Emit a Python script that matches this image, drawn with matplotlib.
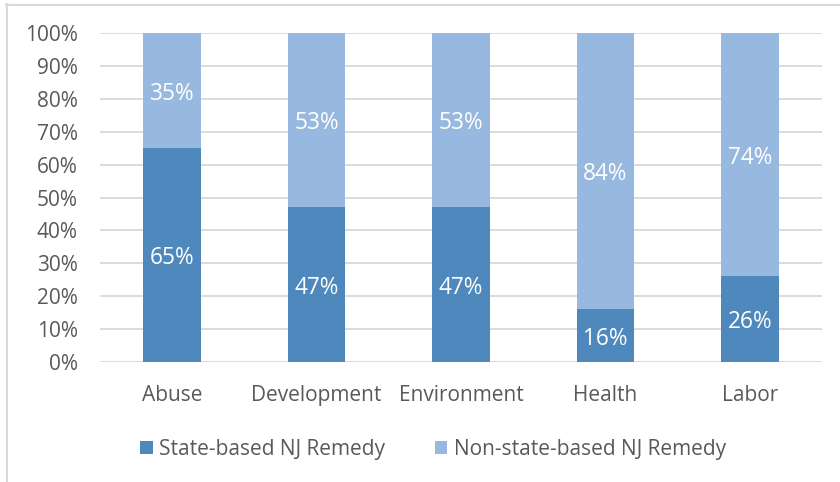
import matplotlib
matplotlib.use("Agg")
import matplotlib.pyplot as plt
import matplotlib.transforms as mtransforms
from matplotlib.lines import Line2D
from matplotlib.patches import Patch

categories = ["Abuse", "Development", "Environment", "Health", "Labor"]
state_based = [65, 47, 47, 16, 26]
non_state_based = [35, 53, 53, 84, 74]
series_names = ["State-based NJ Remedy", "Non-state-based NJ Remedy"]
y_ticks = [0, 10, 20, 30, 40, 50, 60, 70, 80, 90, 100]

c_dark = "#4F88BD"
c_light = "#98B9DF"
c_text = "#595959"
fs = 15
fs_lab = 16.3
plt.rcParams['font.family'] = ['Open Sans', 'DejaVu Sans']

fig = plt.figure(figsize=(8.4, 4.82), dpi=100)
ax = fig.add_axes([100/840, 1-362/482, 722/840, 329/482])

x = list(range(len(categories)))
w = 0.4
ax.bar(x, state_based, width=w, color=c_dark, zorder=3)
ax.bar(x, non_state_based, width=w, bottom=state_based, color=c_light, zorder=3)

lab_tr = ax.transData + mtransforms.ScaledTranslation(0, -3/100, fig.dpi_scale_trans)
for i in x:
    ax.text(i, state_based[i]/2, f"{state_based[i]}%", ha="center", va="center",
            color="white", fontsize=fs_lab, zorder=4, transform=lab_tr)
    ax.text(i, state_based[i] + non_state_based[i]/2, f"{non_state_based[i]}%",
            ha="center", va="center", color="white", fontsize=fs_lab, zorder=4,
            transform=lab_tr)

ax.set_xlim(-0.5, len(categories) - 0.5)
ax.set_ylim(0, 100)
ax.set_yticks(y_ticks)
ax.set_yticklabels([f"{t}%" for t in y_ticks])
ax.set_xticks(x)
ax.set_xticklabels(categories)
ax.tick_params(axis="both", length=0, labelsize=fs, labelcolor=c_text)
ax.tick_params(axis="y", pad=16)
ax.tick_params(axis="x", pad=16.5)
ax.yaxis.grid(True, color="#D9D9D9", linewidth=1.3, zorder=0)
for s in ax.spines.values():
    s.set_visible(False)

handles = [Patch(facecolor=c_dark), Patch(facecolor=c_light)]
leg = fig.legend(handles, series_names, loc="center", bbox_to_anchor=(433/840, 1-449/482),
                 ncol=2, frameon=False, fontsize=fs, handlelength=0.6, handleheight=0.6,
                 handletextpad=0.3, columnspacing=2.4)
for t in leg.get_texts():
    t.set_color(c_text)

# chart border
fig.add_artist(Line2D([6.5/840, 6.5/840], [0, 1-4/482], transform=fig.transFigure,
                      color="#D9D9D9", linewidth=1.5))
fig.add_artist(Line2D([6/840, 1], [1-4.5/482, 1-4.5/482], transform=fig.transFigure,
                      color="#D9D9D9", linewidth=1.5))

fig.savefig("out.png", dpi=100)
